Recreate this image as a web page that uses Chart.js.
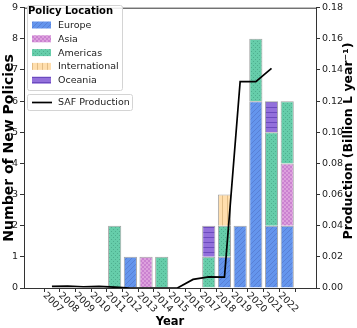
<!DOCTYPE html>
<html lang="en">
<head>
    <meta charset="UTF-8">
    <title>SAF policies and production</title>
    <script src="https://cdn.jsdelivr.net/npm/chart.js"></script>
    <style>
        html, body { margin: 0; padding: 0; background: #ffffff; }
        #wrap { width: 357px; height: 328px; }
    </style>
</head>
<body>
    <div id="wrap"><canvas id="policyChart" width="357" height="328"></canvas></div>

    <script>
        // data
        const years = [2007, 2008, 2009, 2010, 2011, 2012, 2013, 2014, 2015, 2016, 2017, 2018, 2019, 2020, 2021, 2022];
        const europe        = [0, 0, 0, 0, 0, 1, 0, 0, 0, 0, 0, 1, 2, 6, 2, 2];
        const asia          = [0, 0, 0, 0, 0, 0, 1, 0, 0, 0, 0, 0, 0, 0, 0, 2];
        const americas      = [0, 0, 0, 0, 2, 0, 0, 1, 0, 0, 1, 1, 0, 2, 3, 2];
        const international = [0, 0, 0, 0, 0, 0, 0, 0, 0, 0, 0, 1, 0, 0, 0, 0];
        const oceania       = [0, 0, 0, 0, 0, 0, 0, 0, 0, 0, 1, 0, 0, 0, 1, 0];
        const safYears = [2007, 2008, 2009, 2010, 2011, 2012, 2013, 2014, 2015, 2016, 2017, 2018, 2019, 2020, 2021];
        const safProduction = [0.001, 0.0012, 0.0008, 0.001, 0.0005, 0, 0, 0, 0, 0.0055, 0.0072, 0.007, 0.1325, 0.1325, 0.141];
        const leftTicks = [0, 1, 2, 3, 4, 5, 6, 7, 8, 9];
        const rightTicks = [0, 0.02, 0.04, 0.06, 0.08, 0.10, 0.12, 0.14, 0.16, 0.18];

        const FONT = '"DejaVu Sans", sans-serif';

        // hatch fills like the matplotlib ones
        function makePattern(base, ink, kind) {
            const c = document.createElement('canvas');
            const s = kind === 'dots' ? 4 : (kind === 'check' ? 4 : 5);
            c.width = s; c.height = s;
            const g = c.getContext('2d');
            g.fillStyle = base;
            g.fillRect(0, 0, s, s);
            g.strokeStyle = ink;
            g.fillStyle = ink;
            g.lineWidth = 0.8;
            if (kind === 'diag') {
                g.beginPath();
                g.moveTo(0, s); g.lineTo(s, 0);
                g.moveTo(-1, 1); g.lineTo(1, -1);
                g.moveTo(s - 1, s + 1); g.lineTo(s + 1, s - 1);
                g.stroke();
            } else if (kind === 'check') {
                g.fillRect(0, 0, 2, 2);
                g.fillRect(2, 2, 2, 2);
            } else if (kind === 'dots') {
                g.fillRect(1, 1, 1, 1);
                g.fillRect(3, 3, 1, 1);
            } else if (kind === 'vert') {
                g.fillRect(2, 0, 1, s);
            } else if (kind === 'horiz') {
                g.fillRect(0, 2, s, 1);
            }
            return g.createPattern(c, 'repeat');
        }

        const seriesInfo = [
            { label: 'Europe',        values: europe,        fill: makePattern('#6495ed', 'rgba(70,90,170,0.45)', 'diag') },
            { label: 'Asia',          values: asia,          fill: makePattern('#dda0dd', 'rgba(190,110,200,0.6)', 'check') },
            { label: 'Americas',      values: americas,      fill: makePattern('#66cdaa', 'rgba(60,150,120,0.55)', 'dots') },
            { label: 'International', values: international, fill: makePattern('#ffdead', 'rgba(200,160,100,0.55)', 'vert') },
            { label: 'Oceania',       values: oceania,       fill: makePattern('#9370db', 'rgba(80,50,170,0.6)', 'horiz') }
        ];

        const barSets = seriesInfo.map(s => ({
            type: 'bar',
            label: s.label,
            data: years.map((yr, i) => ({ x: yr, y: s.values[i] })).filter(p => p.y > 0),
            backgroundColor: s.fill,
            borderColor: '#a3a3a3',
            borderWidth: 1,
            barPercentage: 0.84,
            categoryPercentage: 1,
            yAxisID: 'y',
            order: 2
        }));

        const lineSet = {
            type: 'line',
            label: 'SAF Production',
            data: safYears.map((yr, i) => ({ x: yr, y: safProduction[i] })),
            borderColor: '#000000',
            borderWidth: 1.7,
            pointRadius: 0,
            tension: 0,
            fill: false,
            yAxisID: 'y1',
            order: 1
        };

        const decor = {
            id: 'decor',
            afterDraw(chart) {
                const g = chart.ctx;
                const a = chart.chartArea;
                const xs = chart.scales.x;
                g.save();
                // top spine
                g.strokeStyle = '#333';
                g.lineWidth = 1;
                g.beginPath();
                g.moveTo(a.left, a.top + 0.5);
                g.lineTo(a.right, a.top + 0.5);
                g.stroke();

                // rotated year labels
                g.fillStyle = '#222';
                g.font = '9.5px ' + FONT;
                g.textAlign = 'center';
                g.textBaseline = 'middle';
                years.forEach(yr => {
                    g.save();
                    g.translate(xs.getPixelForValue(yr) + 1, a.bottom + 14.5);
                    g.rotate(Math.PI / 4);
                    g.fillText(String(yr), 0, 0);
                    g.restore();
                });

                // axis titles
                g.fillStyle = '#000';
                g.font = 'bold 11.5px ' + FONT;
                g.fillText('Year', (a.left + a.right) / 2, 322);

                g.font = 'bold 14px ' + FONT;
                g.save();
                g.translate(9, (a.top + a.bottom) / 2);
                g.rotate(-Math.PI / 2);
                g.fillText('Number of New Policies', 0, 0);
                g.restore();

                g.font = 'bold 12.5px ' + FONT;
                g.save();
                g.translate(349, 141);
                g.rotate(-Math.PI / 2);
                g.fillText('Production (Billion L year\u207B\u00B9)', 0, 0);
                g.restore();

                // legend: policy location
                g.fillStyle = 'rgba(255,255,255,0.85)';
                g.strokeStyle = '#d4d4d4';
                g.beginPath();
                g.roundRect(27.5, 5.5, 95, 85, 2);
                g.fill();
                g.stroke();
                g.fillStyle = '#000';
                g.textAlign = 'left';
                g.font = 'bold 10px ' + FONT;
                g.fillText('Policy Location', 28, 11.5);
                g.font = '9.5px ' + FONT;
                seriesInfo.forEach((s, i) => {
                    const cy = 25 + i * 13.8;
                    g.fillStyle = s.fill;
                    g.fillRect(32, cy - 3.5, 19, 7);
                    g.fillStyle = '#222';
                    g.fillText(s.label, 58, cy + 0.5);
                });

                // legend: SAF line
                g.fillStyle = 'rgba(255,255,255,0.85)';
                g.strokeStyle = '#d4d4d4';
                g.beginPath();
                g.roundRect(27.5, 94.5, 105, 16, 2);
                g.fill();
                g.stroke();
                g.strokeStyle = '#000';
                g.lineWidth = 1.7;
                g.beginPath();
                g.moveTo(32, 102.5);
                g.lineTo(52, 102.5);
                g.stroke();
                g.fillStyle = '#222';
                g.fillText('SAF Production', 58, 103);
                g.restore();
            }
        };

        new Chart(document.getElementById('policyChart'), {
            data: { datasets: [...barSets, lineSet] },
            options: {
                responsive: false,
                animation: false,
                layout: { padding: { top: 5, left: 0, right: 0, bottom: 0 } },
                plugins: {
                    legend: { display: false },
                    tooltip: { enabled: false }
                },
                scales: {
                    x: {
                        type: 'linear',
                        stacked: true,
                        min: 2005.8,
                        max: 2023.255,
                        afterBuildTicks: scale => { scale.ticks = years.map(v => ({ value: v })); },
                        afterFit: scale => { scale.height = 40; },
                        ticks: { display: false },
                        grid: { drawOnChartArea: false, drawTicks: true, tickLength: 4, color: '#333' },
                        border: { display: true, color: '#333', width: 1 }
                    },
                    y: {
                        position: 'left',
                        stacked: true,
                        min: 0,
                        max: 9,
                        afterBuildTicks: scale => { scale.ticks = leftTicks.map(v => ({ value: v })); },
                        afterFit: scale => { scale.width = 24; },
                        ticks: { font: { family: FONT, size: 9.5 }, color: '#222', padding: 2 },
                        grid: { drawOnChartArea: false, drawTicks: true, tickLength: 4, color: '#333' },
                        border: { display: true, color: '#333', width: 1 }
                    },
                    y1: {
                        position: 'right',
                        min: 0,
                        max: 0.18,
                        afterBuildTicks: scale => { scale.ticks = rightTicks.map(v => ({ value: v })); },
                        afterFit: scale => { scale.width = 41; },
                        ticks: {
                            font: { family: FONT, size: 9.5 },
                            color: '#222',
                            padding: 2,
                            callback: v => Number(v).toFixed(2)
                        },
                        grid: { drawOnChartArea: false, drawTicks: true, tickLength: 4, color: '#333' },
                        border: { display: true, color: '#333', width: 1 }
                    }
                }
            },
            plugins: [decor]
        });
    </script>
</body>
</html>
